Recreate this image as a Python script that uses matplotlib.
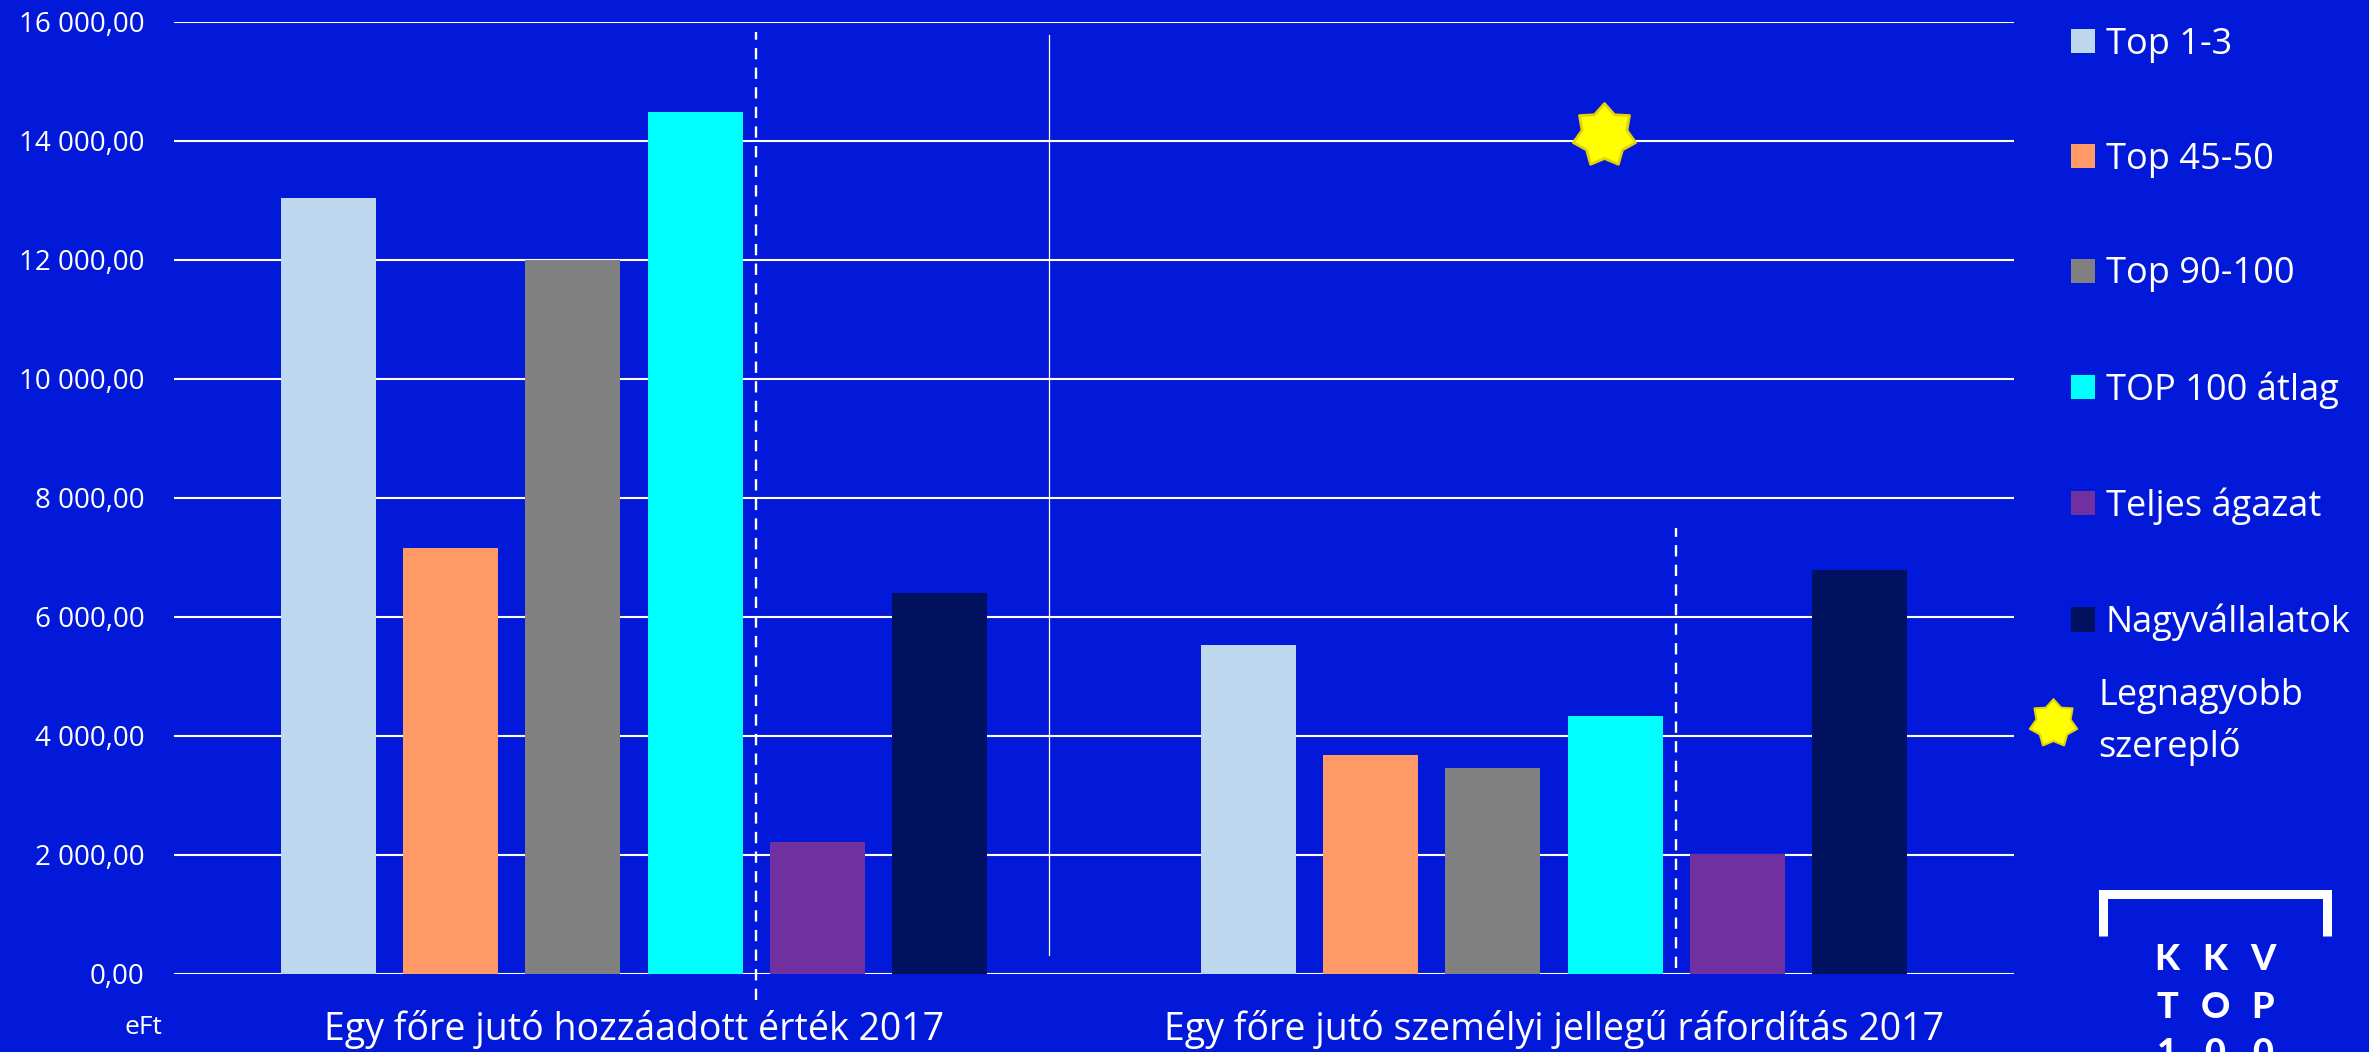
import numpy as np
import matplotlib
matplotlib.use('Agg')
import matplotlib.pyplot as plt
from matplotlib.patches import Patch
from matplotlib.lines import Line2D
from matplotlib.path import Path
from matplotlib.ticker import FuncFormatter

# data (eFt)
categories = ['Egy főre jutó hozzáadott érték 2017',
              'Egy főre jutó személyi jellegű ráfordítás 2017']
series = ['Top 1-3', 'Top 45-50', 'Top 90-100', 'TOP 100 átlag', 'Teljes ágazat', 'Nagyvállalatok']
top_1_3 = [13040, 5520]
top_45_50 = [7155, 3675]
top_90_100 = [12000, 3465]
top100_atlag = [14490, 4330]
teljes_agazat = [2210, 2010]
nagyvallalatok = [6395, 6780]
legnagyobb_cat = [1]
legnagyobb_val = [14100]
legnagyobb_label = 'Legnagyobb\nszereplő'
y_ticks = [0, 2000, 4000, 6000, 8000, 10000, 12000, 14000, 16000]
unit_label = 'eFt'
logo_rows = ['KKV', 'TOP', '100']

values = [top_1_3, top_45_50, top_90_100, top100_atlag, teljes_agazat, nagyvallalatok]
colors = ['#BDD7EE', '#FF9966', '#808080', '#00FFFF', '#7030A0', '#00115F']
bg = '#0319D9'

plt.rcParams['font.family'] = ['Open Sans', 'DejaVu Sans']

W, H = 2369, 1052
fig = plt.figure(figsize=(W / 100, H / 100), dpi=100)
fig.patch.set_facecolor(bg)

left, right, bottom, top = 174 / W, 2014 / W, 1 - 974 / H, 1 - 21.7 / H
ax = fig.add_axes([left, bottom, right - left, top - bottom])
ax.set_facecolor('none')

x = np.arange(len(categories))
pitch, width = 0.133, 0.1034
for i, (vals, c, name) in enumerate(zip(values, colors, series)):
    ax.bar(x + (i - 2.5) * pitch, vals, width, color=c, label=name, zorder=3)

ax.set_xlim(-0.5, 1.5)
ax.set_ylim(0, 16000)
ax.set_yticks(y_ticks)
ax.yaxis.set_major_formatter(FuncFormatter(lambda v, p: f'{v:,.2f}'.replace(',', ' ').replace('.', ',')))
ax.set_xticks(x)
ax.set_xticklabels(categories, fontsize=27, color='white')
ax.tick_params(axis='y', length=0, pad=21, labelsize=20, labelcolor='white')
ax.tick_params(axis='x', length=0, pad=26)
ax.grid(axis='y', color='white', lw=1.5, zorder=0)
ax.set_axisbelow(True)
for s in ax.spines.values():
    s.set_visible(False)

# dashed separators between 4th and 5th bar, thin line between the groups
sep = x + 1 * pitch
ax.plot([sep[0], sep[0]], [-440, 15830], color='white', lw=1.7, dashes=(4.8, 3.5),
        clip_on=False, zorder=4)
ax.plot([sep[1], sep[1]], [100, 7500], color='white', lw=1.7, dashes=(4.8, 3.5),
        clip_on=False, zorder=4)
ax.plot([0.451, 0.451], [320, 15780], color='white', lw=0.9, zorder=4)

# largest player star
star = Path.unit_regular_star(7, 0.72)
ax.plot(np.array(legnagyobb_cat) + 0.054, legnagyobb_val, ls='none', marker=star, ms=46,
        mfc='#FFFF00', mec='#E6D400', mew=2, zorder=5)

# legends
handles = [Patch(facecolor=c, edgecolor='none') for c in colors]
fig.legend(handles, series, loc='upper left', bbox_to_anchor=(2071 / W, 1 - 27 / H),
           frameon=False, fontsize=26, labelcolor='white', handlelength=0.66,
           handleheight=0.66, handletextpad=0.3, labelspacing=2.18,
           borderpad=0, borderaxespad=0)
star_handle = Line2D([], [], ls='none', marker=star, ms=35, mfc='#FFFF00', mec='#E6D400', mew=1.5)
leg2 = fig.legend([star_handle], [legnagyobb_label], loc='center left',
                  bbox_to_anchor=(2028 / W, 1 - 722 / H), frameon=False, fontsize=26,
                  labelcolor='white', handlelength=1.4, handletextpad=0.55,
                  borderpad=0, borderaxespad=0)
for t in leg2.get_texts():
    t.set_linespacing(1.45)

fig.text(162 / W, 1 - 1034 / H, unit_label, ha='right', va='baseline', fontsize=19, color='white')

# logo (its last row runs off the bottom edge, as in the reference)
bx0, bx1, by0, by1 = 2102.5 / W, 2326.5 / W, 1 - 936 / H, 1 - 893.5 / H
fig.add_artist(Line2D([bx0, bx0, bx1, bx1], [by0, by1, by1, by0], transform=fig.transFigure,
                      color='white', lw=6.5, solid_joinstyle='miter', solid_capstyle='butt'))
for r, word in enumerate(logo_rows):
    for k, ch in enumerate(word):
        fig.text((2215 + (k - 1) * 48) / W, 1 - (960 + r * 47) / H, ch, ha='center', va='center',
                 fontsize=26, fontweight='black', family=['Lato', 'DejaVu Sans'], color='white')

fig.savefig('out.png', dpi=100, facecolor=bg)
